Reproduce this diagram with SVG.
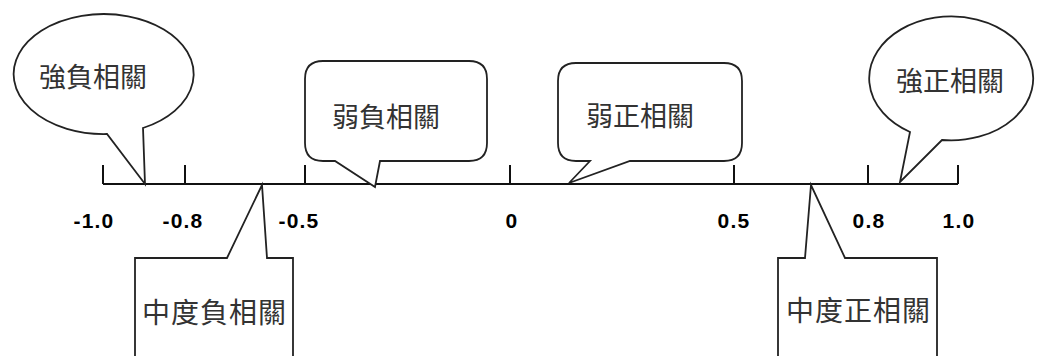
<svg xmlns="http://www.w3.org/2000/svg" width="1037" height="356" viewBox="0 0 1037 356">
<style>
.ln{fill:none;stroke:#111;stroke-width:2}
.bal{fill:#fff;stroke:#222;stroke-width:1.8;stroke-linejoin:miter}
.num{font-family:"Liberation Sans",Arial,sans-serif;font-weight:bold;font-size:21px;fill:#000;text-anchor:middle;letter-spacing:1.2px}
.cjk{font-family:"Noto Sans CJK TC","Noto Sans CJK SC",sans-serif;font-size:27px;fill:#333}
.cjk2{font-family:"Noto Sans CJK TC","Noto Sans CJK SC",sans-serif;font-size:28px;fill:#333;letter-spacing:1px}
</style>
<rect width="1037" height="356" fill="#fff"/>
<g id="connectors">
<g id="axis">
<path class="ln" d="M103,184 H958 M103,165 V184 M185,165 V184 M305,165 V184 M510,165 V184 M734,165 V184 M868,165 V184 M958,165 V184"/>
</g>
</g>
<g id="labels">
<text class="num" x="94" y="228">-1.0</text>
<text class="num" x="183" y="228">-0.8</text>
<text class="num" x="299" y="228">-0.5</text>
<text class="num" x="512" y="228">0</text>
<text class="num" x="734" y="228">0.5</text>
<text class="num" x="869" y="228">0.8</text>
<text class="num" x="959" y="228">1.0</text>
</g>
<g id="strong-neg">
<path class="bal" d="M143,128 A90,60 0 1 0 107,134 L145,184 Z"/>
<text class="cjk" x="39" y="87">強負相關</text>
</g>
<g id="weak-neg">
<path class="bal" d="M323,61 L469,61 Q487,61 487,79 L487,143 Q487,161 469,161 L380,161 L375,187 L335,161 L323,161 Q305,161 305,143 L305,79 Q305,61 323,61 Z"/>
<text class="cjk" x="332" y="127">弱負相關</text>
</g>
<g id="weak-pos">
<path class="bal" d="M576,63 L724,63 Q742,63 742,81 L742,143 Q742,161 724,161 L630,161 L569,183 L590,161 L576,161 Q558,161 558,143 L558,81 Q558,63 576,63 Z"/>
<text class="cjk" x="586" y="126">弱正相關</text>
</g>
<g id="strong-pos">
<path class="bal" d="M942,140 A82,62 0 1 0 910,132 L900,182 Z"/>
<text class="cjk" x="896" y="91">強正相關</text>
</g>
<g id="mod-neg">
<path class="bal" d="M135,370 L135,258 L227,258 L262,185 L267,258 L293,258 L293,370 Z"/>
<text class="cjk2" x="142" y="323">中度負相關</text>
</g>
<g id="mod-pos">
<path class="bal" d="M778,370 L778,258 L805,258 L811,185 L845,258 L937,258 L937,370 Z"/>
<text class="cjk2" x="786" y="321">中度正相關</text>
</g>
</svg>
